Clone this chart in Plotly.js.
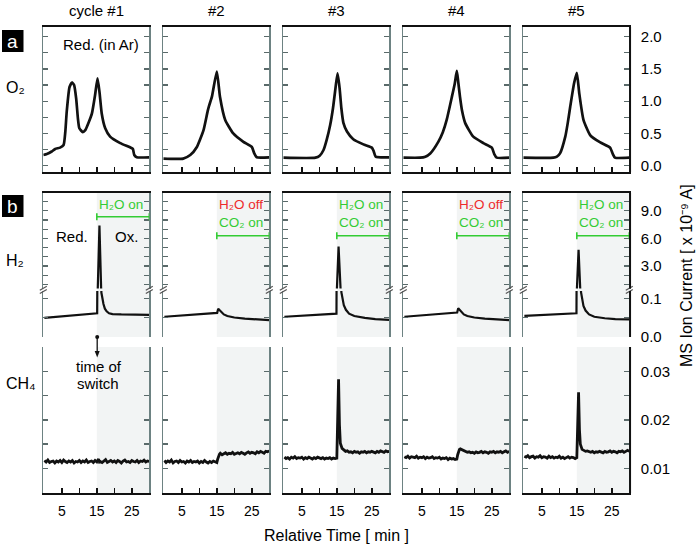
<!DOCTYPE html>
<html><head><meta charset="utf-8">
<script src="https://cdn.plot.ly/plotly-3.0.1.min.js"></script>
<style>html,body{margin:0;padding:0;background:#fff}#chart{width:699px;height:545px}</style>
</head><body><div id="chart"></div>
<script>
// ---------- labels ----------
const cycleTitles = ['cycle #1', '#2', '#3', '#4', '#5'];
const rowLabels = ['O₂', 'H₂', 'CH₄'];
const switchLine1 = ['H₂O on', 'H₂O off', 'H₂O on', 'H₂O off', 'H₂O on'];
const switchLine1Color = ['#33cc33', '#ee2a2a', '#33cc33', '#ee2a2a', '#33cc33'];
const switchLine2 = ['', 'CO₂ on', 'CO₂ on', 'CO₂ on', 'CO₂ on'];
const switchTime = 15;
const xTickVals = [5, 15, 25];
const xTickText = ['5', '15', '25'];
const xMinorVals = [10, 20];
const o2TickVals = [0, 0.5, 1, 1.5, 2];
const o2TickText = ['0.0', '0.5', '1.0', '1.5', '2.0'];
const o2MinorVals = [0.25, 0.75, 1.25, 1.75];
const h2UpperTickVals = [3, 6, 9];
const h2UpperTickText = ['3.0', '6.0', '9.0'];
const h2UpperMinorVals = [1, 2, 4, 5, 7, 8, 10];
const h2LowerTickVals = [0, 0.1];
const h2LowerTickText = ['0.0', '0.1'];
const h2LowerMinorVals = [0.05];
const ch4TickVals = [0.01, 0.02, 0.03];
const ch4TickText = ['0.01', '0.02', '0.03'];
const ch4MinorVals = [0.005, 0.015, 0.025, 0.035];

// ---------- O2 (row a) ----------
const o2Time1 = [-0.3, 0.7, 2.1, 3.1, 4.5, 5.5, 6.0, 6.4, 7.2, 7.9, 8.5, 9.1, 9.6, 10.0, 11.0, 11.7, 12.6, 13.6, 14.5, 15.2, 15.75, 16.4, 17.4, 18.8, 21.7, 24.5, 25.3, 25.7, 26.4, 30];
const o2Cycle1 = [0.165, 0.18, 0.22, 0.26, 0.28, 0.32, 0.53, 0.84, 1.22, 1.29, 1.25, 1.04, 0.73, 0.58, 0.52, 0.55, 0.66, 0.81, 1.095, 1.355, 1.147, 0.81, 0.58, 0.45, 0.35, 0.285, 0.26, 0.166, 0.13, 0.13];
const o2Time2 = [-0.3, 5.4, 7.4, 9.3, 11.2, 12.4, 12.8, 13.6, 15.0, 15.9, 17.4, 19.7, 22.6, 25.0, 25.7, 26.4, 30];
const o2Cycle2 = [0.11, 0.11, 0.165, 0.29, 0.55, 0.85, 0.93, 1.07, 1.46, 1.07, 0.71, 0.50, 0.37, 0.29, 0.19, 0.13, 0.13];
const o2Time3 = [-0.3, 8.9, 10.1, 11.2, 12.1, 13.1, 13.9, 14.5, 15.2, 15.8, 16.3, 16.9, 17.9, 19.7, 22.6, 25.0, 25.5, 26.1, 30];
const o2Cycle3 = [0.124, 0.124, 0.155, 0.243, 0.40, 0.63, 0.89, 1.15, 1.43, 1.2, 0.89, 0.66, 0.53, 0.41, 0.33, 0.28, 0.23, 0.14, 0.13];
const o2Time4 = [-0.3, 4.5, 6.0, 7.4, 9.7, 11.0, 12.1, 13.6, 14.4, 15.0, 15.4, 15.9, 16.5, 17.4, 19.7, 22.6, 25.0, 25.7, 26.4, 30];
const o2Cycle4 = [0.124, 0.124, 0.14, 0.19, 0.37, 0.52, 0.71, 1.07, 1.27, 1.47, 1.3, 1.07, 0.85, 0.66, 0.45, 0.35, 0.28, 0.18, 0.124, 0.124];
const o2Time5 = [-0.3, 8.3, 9.3, 10.2, 11.7, 12.4, 13.1, 14.2, 15.0, 15.7, 16.9, 18.8, 21.7, 24.5, 25.3, 25.9, 30];
const o2Cycle5 = [0.124, 0.124, 0.14, 0.19, 0.45, 0.66, 0.91, 1.275, 1.44, 1.12, 0.71, 0.475, 0.36, 0.28, 0.18, 0.124, 0.124];

// ---------- H2 (row b, broken axis) ----------
const h2Time1 = [0, 3, 6, 9, 12, 15.1, 15.25, 15.75, 16.25, 16.3, 16.6, 16.9, 17.3, 17.8, 18.5, 19.5, 22, 26, 30];
const h2Cycle1 = [0.049, 0.051, 0.053, 0.055, 0.057, 0.061, 0.3, 7.4, 0.3, 0.115, 0.098, 0.085, 0.073, 0.066, 0.061, 0.059, 0.058, 0.057, 0.057];
const h2Time2 = [0, 5, 10, 14.9, 15.1, 15.4, 15.6, 16.2, 17, 18, 20, 23, 26, 30];
const h2Cycle2 = [0.052, 0.055, 0.058, 0.061, 0.062, 0.073, 0.071, 0.064, 0.058, 0.054, 0.05, 0.047, 0.045, 0.043];
const h2Time3 = [0, 5, 10, 14.9, 15.0, 15.5, 16.1, 16.3, 16.6, 17, 17.6, 18.5, 20, 23, 26, 30];
const h2Cycle3 = [0.052, 0.055, 0.058, 0.06, 0.3, 5.1, 0.3, 0.116, 0.097, 0.082, 0.07, 0.06, 0.054, 0.049, 0.046, 0.044];
const h2Time4 = [0, 5, 10, 14.9, 15.1, 15.4, 15.6, 16.2, 17, 18, 20, 23, 26, 30];
const h2Cycle4 = [0.052, 0.055, 0.059, 0.062, 0.063, 0.074, 0.072, 0.064, 0.058, 0.054, 0.05, 0.047, 0.045, 0.043];
const h2Time5 = [0, 5, 10, 14.9, 15.0, 15.5, 16.0, 16.2, 16.5, 16.9, 17.5, 18.5, 20, 23, 26, 30];
const h2Cycle5 = [0.054, 0.056, 0.058, 0.061, 0.3, 4.75, 0.3, 0.116, 0.095, 0.08, 0.068, 0.058, 0.052, 0.048, 0.046, 0.045];

// ---------- CH4 ----------
const ch4Time = [0,0.5,1,1.5,2,2.5,3,3.5,4,4.5,5,5.5,6,6.5,7,7.5,8,8.5,9,9.5,10,10.5,11,11.5,12,12.5,13,13.5,14,14.5,15,15.25,15.5,15.75,16,16.5,17,17.5,18,18.5,19,19.5,20,20.5,21,21.5,22,22.5,23,23.5,24,24.5,25,25.5,26,26.5,27,27.5,28,28.5,29,29.5,30];
const ch4Cycle1 = [0.0116,0.0113,0.0117,0.0112,0.0114,0.0115,0.0111,0.0115,0.0113,0.0116,0.0112,0.0117,0.0114,0.0112,0.0115,0.0113,0.0116,0.0111,0.0114,0.0113,0.0116,0.0112,0.0115,0.0113,0.0117,0.0112,0.0114,0.0115,0.0112,0.0116,0.0113,
  0.0115,0.0119,0.0113,
  0.0114,0.0112,0.0115,0.0118,0.0112,0.0114,0.0116,0.0113,0.0115,0.0112,0.0116,0.0114,0.0111,0.0115,0.0117,0.0113,0.0114,0.0112,0.0116,0.0114,0.0113,0.0116,0.0112,0.0115,0.0114,0.0117,0.0113,0.0115,0.0114];
const ch4Cycle2 = [0.0116,0.0112,0.0115,0.0113,0.0117,0.0111,0.0114,0.0115,0.0112,0.0116,0.0113,0.0114,0.0111,0.0115,0.0113,0.0116,0.0112,0.0114,0.0113,0.0115,0.0111,0.0114,0.0112,0.0116,0.0113,0.0111,0.0114,0.0112,0.0115,0.0113,0.0112,
  0.0119,0.0126,0.0129,
  0.0131,0.0128,0.0130,0.0132,0.0129,0.0131,0.0130,0.0133,0.0129,0.0131,0.0132,0.0130,0.0133,0.0131,0.0129,0.0132,0.0134,0.0131,0.0133,0.0132,0.0130,0.0134,0.0132,0.0135,0.0133,0.0131,0.0135,0.0134,0.0136];
const ch4Cycle3 = [0.0123,0.0120,0.0122,0.0119,0.0123,0.0121,0.0124,0.0120,0.0122,0.0121,0.0123,0.0119,0.0122,0.0120,0.0123,0.0121,0.0119,0.0122,0.0120,0.0123,0.0121,0.0120,0.0122,0.0119,0.0121,0.0120,0.0122,0.0119,0.0121,0.0120,0.0121,
  0.0240,0.0284,0.0190,
  0.0152,0.0141,0.0137,0.0135,0.0136,0.0133,0.0134,0.0132,0.0135,0.0133,0.0134,0.0131,0.0134,0.0133,0.0135,0.0132,0.0134,0.0133,0.0135,0.0134,0.0132,0.0135,0.0133,0.0136,0.0134,0.0133,0.0136,0.0134,0.0135];
const ch4Cycle4 = [0.0124,0.0122,0.0125,0.0121,0.0124,0.0123,0.0122,0.0125,0.0121,0.0123,0.0122,0.0124,0.0120,0.0123,0.0121,0.0122,0.0124,0.0120,0.0122,0.0121,0.0123,0.0119,0.0121,0.0120,0.0122,0.0118,0.0121,0.0119,0.0120,0.0118,0.0119,
  0.0128,0.0137,0.0139,
  0.0140,0.0138,0.0136,0.0135,0.0133,0.0134,0.0132,0.0133,0.0131,0.0134,0.0132,0.0133,0.0135,0.0132,0.0134,0.0133,0.0131,0.0134,0.0133,0.0135,0.0132,0.0134,0.0133,0.0135,0.0132,0.0134,0.0136,0.0133,0.0135];
const ch4Cycle5 = [0.0125,0.0123,0.0126,0.0122,0.0124,0.0125,0.0121,0.0124,0.0123,0.0126,0.0122,0.0124,0.0123,0.0121,0.0125,0.0122,0.0124,0.0121,0.0123,0.0122,0.0125,0.0121,0.0123,0.0120,0.0122,0.0124,0.0121,0.0123,0.0122,0.0120,0.0122,
  0.0215,0.0257,0.0180,
  0.0150,0.0139,0.0137,0.0135,0.0136,0.0134,0.0133,0.0135,0.0132,0.0134,0.0133,0.0135,0.0134,0.0132,0.0135,0.0133,0.0134,0.0136,0.0133,0.0135,0.0134,0.0132,0.0135,0.0134,0.0136,0.0133,0.0135,0.0137,0.0135];

const o2Times = [o2Time1, o2Time2, o2Time3, o2Time4, o2Time5];
const o2Series = [o2Cycle1, o2Cycle2, o2Cycle3, o2Cycle4, o2Cycle5];
const h2Times = [h2Time1, h2Time2, h2Time3, h2Time4, h2Time5];
const h2Series = [h2Cycle1, h2Cycle2, h2Cycle3, h2Cycle4, h2Cycle5];
const ch4Series = [ch4Cycle1, ch4Cycle2, ch4Cycle3, ch4Cycle4, ch4Cycle5];

// ---------- layout ----------
const W = 699, H = 545;
const FONT = 'Liberation Sans, Arial, sans-serif';
const px = v => v / W, py = v => 1 - v / H;
const colLeft = c => 43.3 + 120 * c, colRight = c => 149.3 + 120 * c;
const rowsPx = [[27, 172], [193, 288.5], [291, 337], [347, 493]];
const yRanges = [[-0.098, 2.15], [0.554, 10.92], [-0.0008, 0.119], [0.00489, 0.03507]];
const yTV = [o2TickVals, h2UpperTickVals, h2LowerTickVals, ch4TickVals];
const yTT = [o2TickText, h2UpperTickText, h2LowerTickText, ch4TickText];
const yMV = [o2MinorVals, h2UpperMinorVals, h2LowerMinorVals, ch4MinorVals];
const FRAME = '#6d8282';
const TICKC = '#5a6a6a';
const BLK = '#111';
const SHADE = '#f2f4f4';

const layout = {
  width: W, height: H, margin: {l: 0, r: 0, t: 0, b: 0}, autosize: false,
  paper_bgcolor: '#fff', plot_bgcolor: 'rgba(0,0,0,0)', showlegend: false,
  font: {family: FONT, size: 14, color: '#000'},
  shapes: [], annotations: []
};
const traces = [];
const sfx = k => (k === 1 ? '' : String(k));

for (let r = 0; r < 4; r++) {
  for (let c = 0; c < 5; c++) {
    const k = r * 5 + c + 1, s = sfx(k);
    const xt = (r === 0 || r === 3);
    layout['xaxis' + s] = {
      domain: [px(colLeft(c)), px(colRight(c))], range: [-0.3, 30], anchor: 'y' + s,
      showgrid: false, zeroline: false, fixedrange: true,
      showline: r !== 2, linecolor: BLK, linewidth: 2, mirror: r === 0,
      side: r === 1 ? 'top' : 'bottom',
      ticks: xt ? 'inside' : '', ticklen: 5, tickwidth: 1.5, tickcolor: BLK,
      tickmode: 'array', tickvals: xTickVals, ticktext: xTickText, showticklabels: r === 3,
      minor: xt ? {tickmode: 'array', tickvals: xMinorVals, ticks: 'inside', ticklen: 5, tickwidth: 1.5, tickcolor: BLK, showgrid: false} : undefined,
      tickfont: {size: 14, family: FONT, color: '#000'}, ticklabelstandoff: 4
    };
    layout['yaxis' + s] = {
      domain: [py(rowsPx[r][1]), py(rowsPx[r][0])], range: yRanges[r], anchor: 'x' + s,
      showgrid: false, zeroline: false, fixedrange: true,
      showline: true, linecolor: FRAME, linewidth: 1.5, mirror: 'ticks',
      ticks: 'inside', ticklen: 5, tickwidth: 1.2, tickcolor: TICKC,
      tickmode: 'array', tickvals: yTV[r], ticktext: yTT[r],
      minor: {tickmode: 'array', tickvals: yMV[r], ticks: 'inside', ticklen: 5, tickwidth: 1.2, tickcolor: TICKC, showgrid: false},
      side: c === 4 ? 'right' : 'left', showticklabels: c === 4,
      tickfont: {size: 15, family: FONT, color: '#000'}, ticklabelstandoff: 7
    };
  }
}

for (let c = 0; c < 5; c++) {
  const kO = c + 1, kHU = 5 + c + 1, kHL = 10 + c + 1, kC = 15 + c + 1;
  traces.push({x: o2Times[c], y: o2Series[c], xaxis: 'x' + sfx(kO), yaxis: 'y' + sfx(kO), mode: 'lines',
    line: {color: BLK, width: 2.7, shape: 'spline', smoothing: 0.5}, hoverinfo: 'skip'});
  [kHU, kHL].forEach(k => traces.push({x: h2Times[c], y: h2Series[c], xaxis: 'x' + sfx(k), yaxis: 'y' + sfx(k),
    mode: 'lines', line: {color: BLK, width: 2.2}, hoverinfo: 'skip'}));
  traces.push({x: ch4Time, y: ch4Series[c], xaxis: 'x' + sfx(kC), yaxis: 'y' + sfx(kC), mode: 'lines',
    line: {color: BLK, width: 2.8}, hoverinfo: 'skip'});

  // shaded oxidation region
  layout.shapes.push({type: 'rect', xref: 'x' + sfx(kHL), yref: 'paper', x0: switchTime, x1: 30,
    y0: py(337), y1: py(193), fillcolor: SHADE, line: {width: 0}, layer: 'below'});
  layout.shapes.push({type: 'rect', xref: 'x' + sfx(kC), yref: 'paper', x0: switchTime, x1: 30,
    y0: py(493), y1: py(347), fillcolor: SHADE, line: {width: 0}, layer: 'below'});

  // green bar
  const by = c === 0 ? 216.7 : 235.7;
  const gx = 'x' + sfx(kHU);
  layout.shapes.push({type: 'line', xref: gx, yref: 'paper', x0: switchTime, x1: 30, y0: py(by), y1: py(by), line: {color: '#33cc33', width: 1.6}});
  layout.shapes.push({type: 'line', xref: gx, yref: 'paper', x0: switchTime, x1: switchTime, y0: py(by - 3.5), y1: py(by + 3.5), line: {color: '#33cc33', width: 1.6}});
  layout.shapes.push({type: 'line', xref: gx, yref: 'paper', x0: 30, x1: 30, y0: py(by - 3.5), y1: py(by + 3.5), line: {color: '#33cc33', width: 1.6}});

  layout.annotations.push({xref: 'paper', yref: 'paper', x: px(colRight(c) - 4), y: py(204), xanchor: 'right', yanchor: 'middle',
    text: switchLine1[c], showarrow: false, font: {size: 13.5, color: switchLine1Color[c], family: FONT}});
  if (switchLine2[c]) layout.annotations.push({xref: 'paper', yref: 'paper', x: px(colRight(c) - 4), y: py(222.3), xanchor: 'right', yanchor: 'middle',
    text: switchLine2[c], showarrow: false, font: {size: 13.5, color: '#33cc33', family: FONT}});

  // column titles
  layout.annotations.push({xref: 'paper', yref: 'paper', x: px((colLeft(c) + colRight(c)) / 2), y: py(10), xanchor: 'center', yanchor: 'middle',
    text: cycleTitles[c], showarrow: false, font: {size: 15, family: FONT, color: '#000'}});

  // axis break marks
  [colLeft(c), colRight(c)].forEach(xe => {
    layout.shapes.push({type: 'line', xref: 'paper', yref: 'paper', x0: px(xe - 3.5), x1: px(xe + 3.5), y0: py(290.3), y1: py(286.3), line: {color: '#555', width: 1.2}});
    layout.shapes.push({type: 'line', xref: 'paper', yref: 'paper', x0: px(xe - 3.5), x1: px(xe + 3.5), y0: py(293.5), y1: py(289.5), line: {color: '#555', width: 1.2}});
  });
}

// black right edge of the shared axis
rowsPx.forEach(rp => layout.shapes.push({type: 'line', xref: 'paper', yref: 'paper', x0: px(colRight(4) + 0.75), x1: px(colRight(4) + 0.75),
  y0: py(rp[0]), y1: py(rp[1]), line: {color: BLK, width: 2}}));

// panel letters
[['a', 30, 52], ['b', 195, 217]].forEach(([t, y0, y1]) => {
  layout.shapes.push({type: 'rect', xref: 'paper', yref: 'paper', x0: px(2), x1: px(23.5), y0: py(y1), y1: py(y0), fillcolor: '#000', line: {width: 0}});
  layout.annotations.push({xref: 'paper', yref: 'paper', x: px(12.75), y: py((y0 + y1) / 2 + 0.5), xanchor: 'center', yanchor: 'middle',
    text: t, showarrow: false, font: {size: 19, color: '#fff', family: FONT}});
});
// row labels
[[rowLabels[0], 87], [rowLabels[1], 260], [rowLabels[2], 383]].forEach(([t, y]) => layout.annotations.push({
  xref: 'paper', yref: 'paper', x: px(4), y: py(y), xanchor: 'left', yanchor: 'middle', text: t, showarrow: false,
  font: {size: 16, family: FONT, color: '#000'}}));

// in-panel texts
const txt = (t, x, y, size) => layout.annotations.push({xref: 'paper', yref: 'paper', x: px(x), y: py(y), xanchor: 'center', yanchor: 'middle',
  text: t, showarrow: false, font: {size: size, family: FONT, color: '#000'}});
txt('Red. (in Ar)', 100.5, 44, 15);
txt('Red.', 72, 236, 15);
txt('Ox.', 126, 236, 15);
txt('time of', 99, 366, 15);
txt('switch', 98, 383, 15);
txt('Relative Time [ min ]', 336, 535, 16);
layout.annotations.push({xref: 'paper', yref: 'paper', x: px(686), y: py(276), xanchor: 'center', yanchor: 'middle', textangle: -90,
  text: 'MS Ion Current [ x 10⁻⁹ A]', showarrow: false, font: {size: 16, family: FONT, color: '#000'}});

// time-of-switch marker
layout.shapes.push({type: 'circle', xref: 'paper', yref: 'paper', x0: px(95.2), x1: px(99.2), y0: py(339), y1: py(335), fillcolor: BLK, line: {width: 0}});
layout.shapes.push({type: 'line', xref: 'paper', yref: 'paper', x0: px(97.2), x1: px(97.2), y0: py(337), y1: py(353), line: {color: BLK, width: 1.3}});
layout.shapes.push({type: 'path', xref: 'paper', yref: 'paper',
  path: `M ${px(94.7)} ${py(351)} L ${px(99.7)} ${py(351)} L ${px(97.2)} ${py(357.5)} Z`, fillcolor: BLK, line: {width: 0}});

Plotly.newPlot('chart', traces, layout, {staticPlot: true, displayModeBar: false});
</script>
</body></html>
